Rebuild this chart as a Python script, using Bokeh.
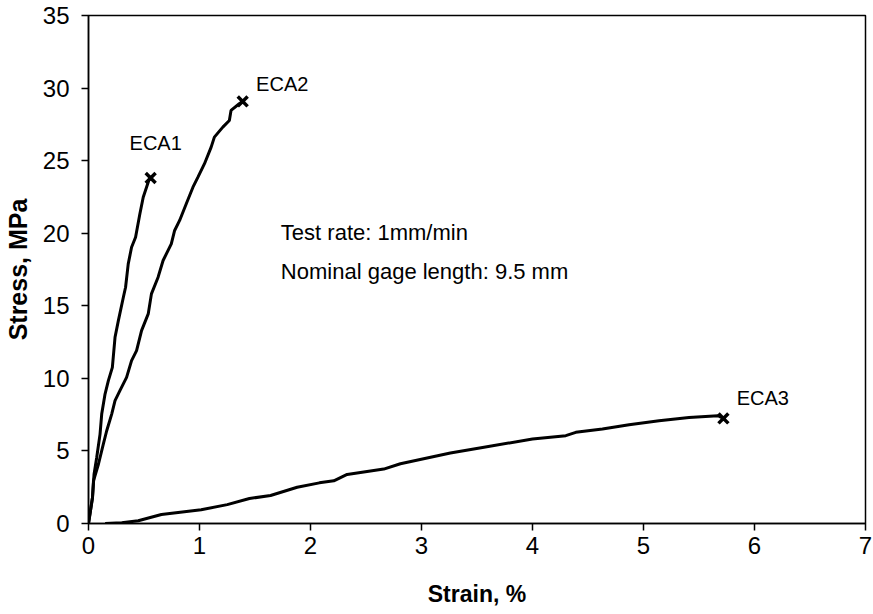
from bokeh.plotting import figure
from bokeh.models import Range1d, FixedTicker, Label
from bokeh.embed import file_html
from bokeh.resources import INLINE

# ECA1
eca1_strain = [0.0, 0.036, 0.05, 0.074, 0.104, 0.119, 0.149, 0.179, 0.215, 0.239, 0.269, 0.314, 0.334, 0.358, 0.388, 0.424, 0.463, 0.493, 0.543, 0.56]
eca1_stress = [0.0, 1.79, 3.4, 4.55, 6.16, 7.54, 8.92, 9.84, 10.76, 12.83, 13.98, 15.59, 16.28, 17.89, 19.03, 19.72, 21.34, 22.48, 23.63, 23.8]
# ECA2
eca2_strain = [0.0, 0.036, 0.045, 0.09, 0.134, 0.164, 0.209, 0.239, 0.283, 0.343, 0.388, 0.433, 0.478, 0.538, 0.567, 0.627, 0.672, 0.746, 0.776, 0.821, 0.881, 0.941, 0.986, 1.045, 1.105, 1.134, 1.21, 1.269, 1.284, 1.358, 1.389]
eca2_stress = [0.0, 1.79, 2.94, 4.1, 5.48, 6.39, 7.54, 8.46, 9.15, 10.07, 11.22, 11.91, 13.29, 14.44, 15.82, 16.97, 18.12, 19.27, 20.19, 20.88, 22.03, 23.17, 23.86, 24.79, 25.93, 26.62, 27.31, 27.77, 28.46, 28.92, 29.08]
# ECA3
eca3_strain = [0.15, 0.3, 0.448, 0.657, 1.015, 1.25, 1.45, 1.64, 1.88, 2.08, 2.21, 2.33, 2.66, 2.81, 3.26, 3.55, 4.0, 4.3, 4.39, 4.63, 4.87, 5.14, 5.41, 5.67, 5.72]
eca3_stress = [0.0, 0.05, 0.19, 0.62, 0.95, 1.3, 1.72, 1.93, 2.5, 2.8, 2.94, 3.38, 3.75, 4.12, 4.86, 5.24, 5.82, 6.05, 6.28, 6.51, 6.81, 7.08, 7.31, 7.43, 7.24]

# failure points and labels
fail_strain = [0.56, 1.389, 5.72]
fail_stress = [23.8, 29.08, 7.24]
label_text = ["ECA1", "ECA2", "ECA3"]
label_x = [0.37, 1.51, 5.84]
label_y = [26.2, 30.3, 8.65]

x_ticks = [0, 1, 2, 3, 4, 5, 6, 7]
y_ticks = [0, 5, 10, 15, 20, 25, 30, 35]

FONT = "Liberation Sans"

p = figure(width=873, height=614, output_backend="svg", toolbar_location=None,
           x_range=Range1d(0, 7), y_range=Range1d(0, 35),
           min_border_left=87, min_border_right=8, min_border_top=15, min_border_bottom=91)
p.grid.visible = False
p.outline_line_color = "black"
p.outline_line_width = 1.5
p.background_fill_color = "white"
p.border_fill_color = "white"

for ax in (p.xaxis[0], p.yaxis[0]):
    ax.axis_line_width = 1.5
    ax.major_tick_line_width = 1.5
    ax.major_tick_out = 7
    ax.major_tick_in = 0
    ax.minor_tick_line_color = None
    ax.major_label_text_font = FONT
    ax.major_label_text_font_size = "24px"
    ax.major_label_text_color = "black"
    ax.axis_label_text_font = FONT
    ax.axis_label_text_font_style = "bold"
    ax.axis_label_text_color = "black"

p.xaxis[0].axis_label_text_font_size = "23px"
p.yaxis[0].axis_label_text_font_size = "25px"
p.xaxis[0].ticker = FixedTicker(ticks=x_ticks)
p.yaxis[0].ticker = FixedTicker(ticks=y_ticks)
p.xaxis[0].axis_label = "Strain, %"
p.yaxis[0].axis_label = "Stress, MPa"
p.xaxis[0].major_label_standoff = 6
p.yaxis[0].major_label_standoff = 12
p.xaxis[0].axis_label_standoff = 24
p.yaxis[0].axis_label_standoff = 8

for xs, ys in ((eca1_strain, eca1_stress), (eca2_strain, eca2_stress), (eca3_strain, eca3_stress)):
    p.line(xs, ys, line_color="black", line_width=3)

p.scatter(fail_strain, fail_stress, marker="x", size=14, line_color="black", line_width=3.5)

for t, lx, ly in zip(label_text, label_x, label_y):
    p.add_layout(Label(x=lx, y=ly, text=t, text_font=FONT, text_font_size="20px",
                       text_baseline="middle", text_align="left", text_color="black"))

p.add_layout(Label(x=1.733, y=20.05, text="Test rate: 1mm/min", text_font=FONT,
                   text_font_size="22px", text_baseline="middle", text_color="black"))
p.add_layout(Label(x=1.733, y=17.35, text="Nominal gage length: 9.5 mm", text_font=FONT,
                   text_font_size="22px", text_baseline="middle", text_color="black"))

open("out.html", "w").write(file_html(p, INLINE))
